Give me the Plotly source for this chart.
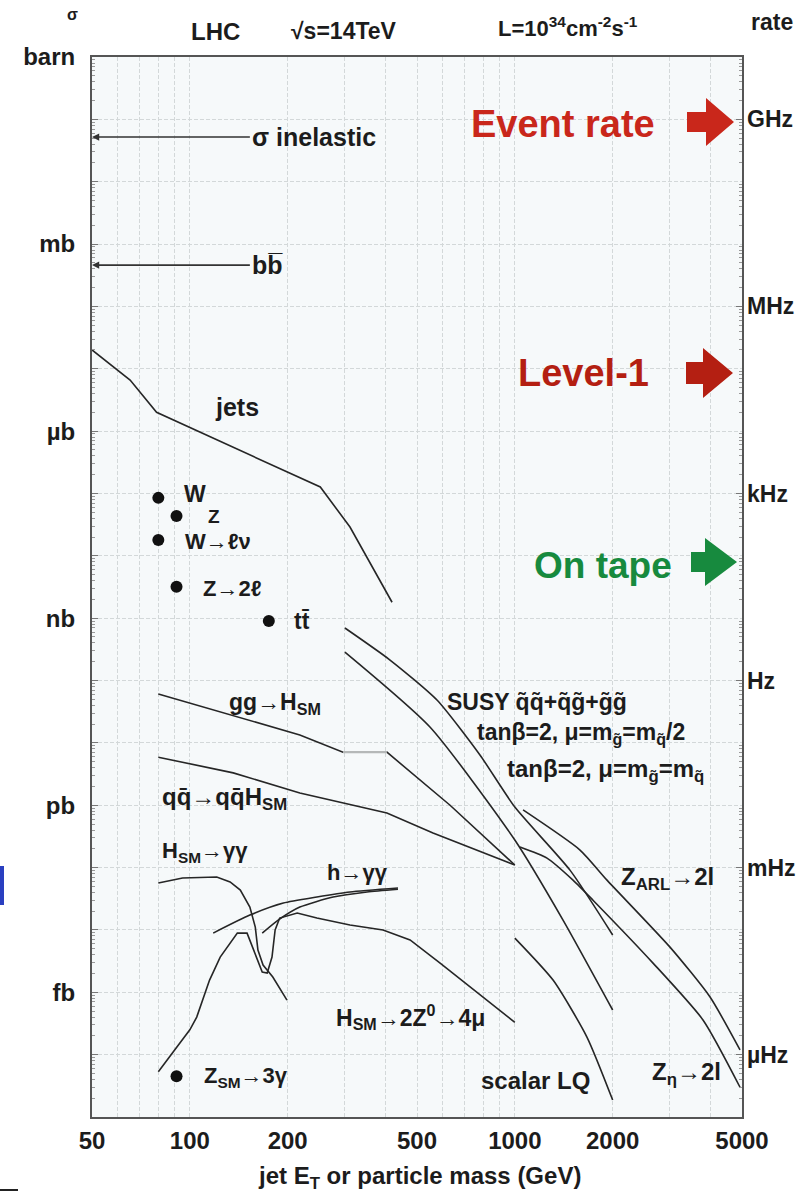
import numpy as np
import plotly.graph_objects as go

# ---------------- data (x: jet E_T or particle mass in GeV, y: cross section in barn) ----------------
jets_E = [50, 65.5, 79, 107, 173, 252, 311, 419]
jets_sigma = [2.0e-5, 6.6e-6, 2.0e-6, 9.7e-7, 3.1e-7, 1.27e-7, 2.9e-8, 1.8e-9]

ggH_E = [80, 136, 218, 296, 404, 632, 1000]
ggH_sigma = [6.1e-11, 2.7e-11, 1.34e-11, 7.1e-12, 7.1e-12, 1.0e-12, 1.1e-13]

qqH_E = [80, 136, 218, 404, 560, 1000]
qqH_sigma = [5.9e-12, 3.3e-12, 1.57e-12, 7.5e-13, 3.58e-13, 1.1e-13]

Hgg_E = [80, 95, 121, 133, 143, 153, 159, 162, 168, 180, 199]
Hgg_sigma = [5.65e-14, 6.8e-14, 7.06e-14, 5.9e-14, 4.37e-14, 2.33e-14, 1.11e-14, 4.76e-15, 2.74e-15, 1.76e-15, 7.5e-16]

H4mu_E = [80, 100, 105, 115, 124, 140, 150, 161, 167, 173, 179, 183, 189, 214, 246, 311, 393, 476, 589, 1000]
H4mu_sigma = [5.3e-17, 2.5e-16, 4.0e-16, 1.57e-15, 3.67e-15, 8.9e-15, 8.9e-15, 3.3e-15, 2.11e-15, 2.04e-15,
              3.67e-15, 1.0e-14, 1.55e-14, 1.87e-14, 1.55e-14, 1.2e-14, 1.0e-14, 6.9e-15, 2.94e-15, 3.3e-16]

hgg_up_E = [118, 153, 194, 246, 311, 437]
hgg_up_sigma = [8.9e-15, 1.73e-14, 2.7e-14, 3.37e-14, 4.06e-14, 4.7e-14]
hgg_lo_E = [167, 187, 218, 276, 351, 437]
hgg_lo_sigma = [8.9e-15, 1.44e-14, 2.33e-14, 3.37e-14, 4.06e-14, 4.5e-14]

susy1_E = [300, 413, 576, 781, 1000, 1478, 2000]
susy1_sigma = [6.95e-10, 2.13e-10, 4.87e-11, 6.4e-12, 9.35e-13, 9.1e-14, 8.3e-15]
susy2_E = [300, 548, 1000, 1407, 2000]
susy2_sigma = [2.86e-10, 1.8e-11, 2.77e-13, 1.44e-14, 5.2e-16]

zarl_E = [1060, 1587, 1921, 3002, 3987, 4930]
zarl_sigma = [8.4e-13, 1.91e-13, 6.3e-14, 5.3e-15, 8.4e-16, 1.19e-16]
zeta_E = [1037, 1256, 1510, 1740, 2662, 3793, 4930]
zeta_sigma = [2.14e-13, 1.42e-13, 6.3e-14, 3.0e-14, 2.94e-15, 3.6e-16, 3.0e-17]

lq_E = [1000, 1311, 1668, 2000]
lq_sigma = [7.4e-15, 1.57e-15, 1.9e-16, 1.87e-17]

# single points: W, Z, W->lv, Z->2l, ttbar, Z_SM->3gamma
pts_E = [80, 91, 80, 91, 175, 91]
pts_sigma = [8.5e-8, 4.35e-8, 1.8e-8, 3.2e-9, 9.0e-10, 4.5e-17]

# horizontal reference arrows (sigma inelastic, b bbar)
inel_sigma = 5.2e-2
bb_sigma = 4.6e-4
ref_arrow_E = [50, 153]

# axis ticks
x_grid = [50, 60, 70, 80, 90, 100, 200, 300, 400, 500, 600, 700, 800, 900, 1000, 2000, 3000, 4000, 5000]
x_tickvals = [50, 100, 200, 500, 1000, 2000, 5000]
x_ticktext = ["50", "100", "200", "500", "1000", "2000", "5000"]
y_decades = list(range(0, -18, -1))
y_label_decades = [0, -3, -6, -9, -12, -15]
y_ticktext = ["barn", "mb", "µb", "nb", "pb", "fb"]
rate_vals = [1e9, 1e6, 1e3, 1, 1e-3, 1e-6]
rate_text = ["GHz", "MHz", "kHz", "Hz", "mHz", "µHz"]
lumi_per_barn = 1e10  # L = 1e34 cm^-2 s^-1 = 1e10 barn^-1 s^-1

# ---------------- figure ----------------
W, H = 812, 1193
L, R, T, B = 92, 742, 57, 1117
FONT = "Liberation Sans"
INK = "#1c1c1c"
LINE = dict(color="#262626", width=1.6)
GRID = dict(showgrid=True, gridcolor="#d3d8d9", gridwidth=1, griddash="4px,2px")


def pxx(x):
    return (x - L) / (R - L)


def pxy(y):
    return (B - y) / (B - T)


fig = go.Figure()


def add_line(xs, ys, line=LINE, smooth=False):
    fig.add_trace(go.Scatter(x=xs, y=ys, mode="lines", line=dict(**line, shape="spline", smoothing=0.6)
                             if smooth else line, showlegend=False, hoverinfo="skip"))


for xs, ys in [(jets_E, jets_sigma), (ggH_E, ggH_sigma), (qqH_E, qqH_sigma), (Hgg_E, Hgg_sigma),
               (H4mu_E, H4mu_sigma)]:
    add_line(xs, ys)
for xs, ys in [(hgg_up_E, hgg_up_sigma), (hgg_lo_E, hgg_lo_sigma), (susy1_E, susy1_sigma),
               (susy2_E, susy2_sigma), (zarl_E, zarl_sigma), (zeta_E, zeta_sigma), (lq_E, lq_sigma)]:
    add_line(xs, ys, smooth=True)

# light-grey flat piece of gg->H
add_line(ggH_E[3:5], ggH_sigma[3:5], dict(color="#b5b8b8", width=2.2))

fig.add_trace(go.Scatter(x=pts_E, y=pts_sigma, mode="markers",
                         marker=dict(size=12, color="#111"), showlegend=False, hoverinfo="skip"))

# invisible traces so the rate axis and the minor-tick axis are drawn
fig.add_trace(go.Scatter(x=[100], y=[1.0], yaxis="y2", mode="markers", opacity=0,
                         showlegend=False, hoverinfo="skip"))
fig.add_trace(go.Scatter(x=[100], y=[1e-9], yaxis="y3", mode="markers", opacity=0,
                         showlegend=False, hoverinfo="skip"))

annotations = []


def font(size, color=INK, bold=True):
    return dict(family=FONT, size=size, color=color, weight="bold" if bold else "normal")


for s, txt in [(inel_sigma, "σ inelastic"), (bb_sigma, "b\u0062\u0305")]:
    annotations.append(dict(x=np.log10(ref_arrow_E[0]), y=np.log10(s),
                            ax=np.log10(ref_arrow_E[1]), ay=np.log10(s),
                            xref="x", yref="y", axref="x", ayref="y", text=txt, xanchor="left",
                            yanchor="middle", font=font(25),
                            showarrow=True, arrowhead=2, arrowsize=0.9, arrowwidth=1.6, arrowcolor="#333"))


def label(text, x, y, size=24, anchor="left", color=INK, bold=True):
    annotations.append(dict(text=text, x=pxx(x), y=pxy(y), xref="paper", yref="paper", showarrow=False,
                            xanchor=anchor, yanchor="middle", font=font(size, color, bold)))


label("jets", 237, 407, 25, "center")
label("W", 182, 494, 23)
label("Z", 206, 516, 19)
label("W→ℓν", 183, 541, 22)
label("Z→2ℓ", 201, 588, 22)
label("t\u0074\u0304", 292, 621, 23)
label("gg→H<sub>SM</sub>", 227, 703, 23)
label("q\u0071\u0304→q\u0071\u0304H<sub>SM</sub>", 160, 798, 24)
label("H<sub>SM</sub>→γγ", 160, 852, 22)
label("h→γγ", 325, 872, 22)
label("SUSY \u0071\u0303\u0071\u0303+\u0071\u0303\u0067\u0303+\u0067\u0303\u0067\u0303", 445, 702, 23)
label("tanβ=2, μ=m<sub>g\u0303</sub>=m<sub>q\u0303</sub>/2", 475, 733, 23)
label("tanβ=2, μ=m<sub>g\u0303</sub>=m<sub>q\u0303</sub>", 505, 770, 24)
label("Z<sub>ARL</sub>→2l", 619, 878, 24)
label("H<sub>SM</sub>→2Z<sup>0</sup>→4μ", 334, 1017, 23)
label("scalar LQ", 479, 1080, 24)
label("Z<sub>η</sub>→2l", 650, 1073, 24)
label("Z<sub>SM</sub>→3γ", 202, 1077, 22)

# header texts
label("σ", 72, 15, 16, "center")
label("LHC", 215, 32, 24, "center")
label("√s=14TeV", 344, 31, 23, "center")
label("L=10<sup>34</sup>cm<sup>-2</sup>s<sup>-1</sup>", 568, 27, 22, "center")
label("rate", 772, 22, 23, "center")
label("jet E<sub>T</sub> or particle mass (GeV)", 419, 1177, 24, "center")

# trigger annotations
label("Event rate", 563, 124, 38, "center", "#c9271b")
label("Level-1", 583, 373, 38, "center", "#b41f12")
label("On tape", 603, 565, 37, "center", "#178a3e")

shapes = []


def block_arrow(x0, xs, x1, yc, hs, hh, color):
    pts = [(x0, yc - hs), (xs, yc - hs), (xs, yc - hh), (x1, yc), (xs, yc + hh), (xs, yc + hs), (x0, yc + hs)]
    path = "M " + " L ".join(f"{pxx(a):.5f},{pxy(b):.5f}" for a, b in pts) + " Z"
    shapes.append(dict(type="path", path=path, xref="paper", yref="paper",
                       fillcolor=color, line=dict(width=0)))


block_arrow(687, 706, 734, 122, 10, 24, "#c9271b")
block_arrow(686, 703, 733, 373, 11, 25, "#b41f12")
block_arrow(691, 705, 737, 562, 10, 24, "#178a3e")

# stray slide fragments at the left / bottom edge
shapes.append(dict(type="rect", xref="paper", yref="paper", x0=pxx(-2), x1=pxx(4), y0=pxy(905), y1=pxy(866),
                   fillcolor="#2a3fc0", line=dict(width=0)))
shapes.append(dict(type="line", xref="paper", yref="paper", x0=pxx(0), x1=pxx(18), y0=pxy(1190), y1=pxy(1190),
                   line=dict(color="#222", width=2)))

y_minor = [m * 10.0 ** k for k in range(-17, 0) for m in range(2, 10)]
rate_minor = [m * 10.0 ** k for k in range(-7, 10) for m in range(2, 10)]
x_minor = [v for v in x_grid if v not in x_tickvals]
y_unlabeled = [10.0 ** k for k in y_decades if k not in y_label_decades]
y_range = [-17, 0]

fig.update_layout(
    width=W, height=H,
    margin=dict(l=L, r=W - R, t=T, b=H - B, pad=0),
    paper_bgcolor="white", plot_bgcolor="#f6f9fa",
    font=font(22),
    showlegend=False,
    annotations=annotations,
    shapes=shapes,
    xaxis=dict(type="log", range=[np.log10(50), np.log10(5000)],
               tickmode="array", tickvals=x_tickvals, ticktext=x_ticktext, ticks="",
               minor=dict(tickmode="array", tickvals=x_minor, ticks="", **GRID),
               **GRID,
               showline=True, linecolor="#555", linewidth=2, mirror=True, zeroline=False,
               ticklabelstandoff=1, tickfont=font(24)),
    yaxis=dict(type="log", range=y_range,
               tickmode="array", tickvals=[10.0 ** k for k in y_label_decades], ticktext=y_ticktext,
               ticks="inside", ticklen=6, tickcolor="#777",
               minor=dict(tickmode="array", tickvals=y_unlabeled, ticks="inside", ticklen=6,
                          tickcolor="#777", **GRID),
               **GRID,
               showline=True, linecolor="#555", linewidth=2, mirror=True, zeroline=False,
               ticklabelstandoff=10, tickfont=font(24)),
    yaxis3=dict(type="log", overlaying="y", side="left", anchor="x", range=y_range,
                tickmode="array", tickvals=y_minor, ticks="inside", ticklen=3, tickcolor="#999",
                showticklabels=False, showgrid=False, zeroline=False, showline=False),
    yaxis2=dict(type="log", overlaying="y", side="right",
                range=[y_range[0] + np.log10(lumi_per_barn), y_range[1] + np.log10(lumi_per_barn)],
                tickmode="array", tickvals=rate_vals, ticktext=rate_text,
                ticks="inside", ticklen=6, tickcolor="#777",
                minor=dict(tickmode="array", tickvals=rate_minor, ticks="inside", ticklen=3, tickcolor="#999",
                           showgrid=False),
                showgrid=False, zeroline=False, showline=False,
                ticklabelstandoff=4, tickfont=font(23)),
)

fig.write_html("out.html")
